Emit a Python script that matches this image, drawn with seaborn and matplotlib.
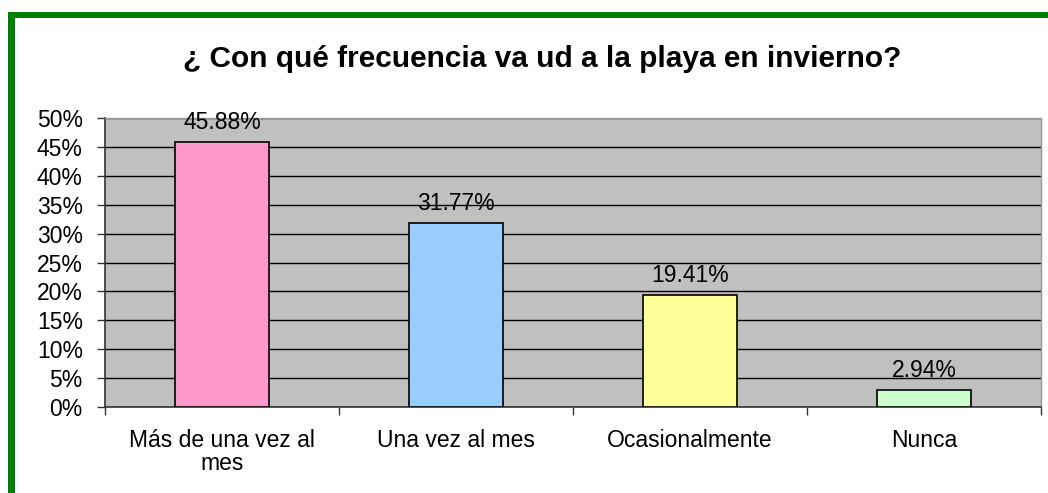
import pandas as pd
import numpy as np
import matplotlib
matplotlib.use("Agg")
import matplotlib.pyplot as plt
from matplotlib.patches import Rectangle
import seaborn as sns

#### DATA ####
categorias = ["Más de una vez al\nmes", "Una vez al mes", "Ocasionalmente", "Nunca"]
porcentajes = [45.88, 31.77, 19.41, 2.94]
colores = ["#FF99CC", "#99CCFF", "#FFFF99", "#CCFFCC"]
ticks_y = list(range(0, 55, 5))

df = pd.DataFrame({"categoria": categorias, "porcentaje": porcentajes})

sns.set_style("white")
plt.rcParams["font.family"] = ["Liberation Sans", "DejaVu Sans"]
plt.rcParams["text.color"] = "black"
plt.rcParams["xtick.color"] = "black"
plt.rcParams["ytick.color"] = "black"
plt.rcParams["xtick.labelcolor"] = "black"
plt.rcParams["ytick.labelcolor"] = "black"

fig = plt.figure(figsize=(10.48, 4.93), dpi=100)
ax = fig.add_axes([105 / 1048, 1 - 407 / 493, 936 / 1048, 289 / 493])

sns.barplot(data=df, x="categoria", y="porcentaje", hue="categoria",
            palette=colores, saturation=1, width=0.4, edgecolor="black",
            linewidth=1.2, legend=False, ax=ax, zorder=3)

ax.set_facecolor("#C0C0C0")
ax.set_ylim(0, 50)
ax.set_xlim(-0.5, 3.5)
ax.set_yticks(ticks_y)
ax.set_yticklabels([str(t) + "%" for t in ticks_y], fontsize=16.5)
ax.yaxis.grid(True, color="black", linewidth=1.0, zorder=1)
ax.set_axisbelow(True)
ax.tick_params(axis="y", direction="out", length=6, width=1, color="#333333",
               pad=10, left=True)
ax.tick_params(axis="x", which="major", length=0, pad=16, labelsize=16.5)
ax.set_xticks(np.arange(-0.5, 4, 1), minor=True)
ax.tick_params(axis="x", which="minor", direction="out", length=6, width=1,
               color="#333333", bottom=True)
for lbl in ax.get_xticklabels():
    lbl.set_linespacing(1.0)
ax.set_xlabel("")
ax.set_ylabel("")

for side in ["left", "bottom"]:
    ax.spines[side].set_color("#333333")
    ax.spines[side].set_linewidth(1.2)
for side in ["top", "right"]:
    ax.spines[side].set_color("#999999")
    ax.spines[side].set_linewidth(1.0)

# value labels
for i, v in enumerate(porcentajes):
    ax.text(i, v + 1.4, f"{v:.2f}%", ha="center", va="bottom", fontsize=16.5,
            color="black", zorder=4)

fig.text(542 / 1048, 1 - 59 / 493, "¿ Con qué frecuencia va ud a la playa en invierno?",
         ha="center", va="center", fontsize=21.5, fontweight="bold", color="black")

# green frame on top and left
fig.add_artist(Rectangle((8 / 1048, 0), 7 / 1048, 1 - 12 / 493,
                         transform=fig.transFigure, color="#008000", lw=0))
fig.add_artist(Rectangle((8 / 1048, 1 - 18 / 493), 1 - 8 / 1048, 6 / 493,
                         transform=fig.transFigure, color="#008000", lw=0))

fig.savefig("out.png", dpi=100)
